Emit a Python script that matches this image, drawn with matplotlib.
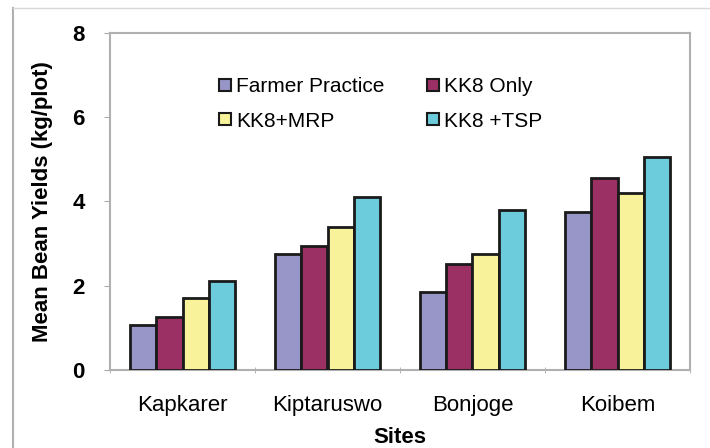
import matplotlib
matplotlib.use("Agg")
import matplotlib.pyplot as plt
import numpy as np
from matplotlib.lines import Line2D

plt.rcParams['font.family'] = ['Liberation Sans', 'DejaVu Sans']

sites = ['Kapkarer', 'Kiptaruswo', 'Bonjoge', 'Koibem']
series = ['Farmer Practice', 'KK8 Only', 'KK8+MRP', 'KK8 +TSP']
farmer = [1.07, 2.75, 1.85, 3.76]
kk8_only = [1.25, 2.95, 2.51, 4.55]
kk8_mrp = [1.72, 3.40, 2.75, 4.21]
kk8_tsp = [2.11, 4.10, 3.80, 5.05]
colors = ['#9896C8', '#9B3065', '#F8F29A', '#6CCCDC']

fig = plt.figure(figsize=(7.1, 4.48), dpi=100)
ax = fig.add_axes([110/710, 1-370/448, 580/710, 337/448])

x = np.arange(len(sites))
w = 0.18
for i, vals in enumerate([farmer, kk8_only, kk8_mrp, kk8_tsp]):
    ax.bar(x + (i - 1.5)*w, vals, w, color=colors[i], edgecolor='#1a1a1a',
           linewidth=2, label=series[i], zorder=3)

ax.set_xlim(-0.5, 3.5)
ax.set_ylim(0, 8)
ax.set_yticks([0, 2, 4, 6, 8])
ax.set_xticks(x)
ax.set_xticklabels(sites, fontsize=16)
ax.set_xticks([-0.5, 0.5, 1.5, 2.5, 3.5], minor=True)
ax.tick_params(axis='x', which='major', length=0, pad=18)
ax.tick_params(axis='x', which='minor', length=5, direction='inout', color='#aaaaaa')
ax.tick_params(axis='y', length=4, color='#aaaaaa', labelsize=16, pad=14)
for lab in ax.get_yticklabels():
    lab.set_fontweight('bold')
for s in ax.spines.values():
    s.set_color('#b0b0b0')
    s.set_linewidth(1.5)

ax.set_ylabel('Mean Bean Yields (kg/plot)', fontsize=16, fontweight='bold', labelpad=14)
ax.set_xlabel('Sites', fontsize=16, fontweight='bold', labelpad=8)

# legend fills column-wise, so order gives rows: FP / KK8 Only, MRP / TSP
order = [0, 2, 1, 3]
handles = [Line2D([], [], marker='s', linestyle='none', markersize=8,
                  markerfacecolor=colors[i], markeredgecolor='#1a1a1a', markeredgewidth=1.5)
           for i in order]
ax.legend(handles, [series[i] for i in order], loc='upper left',
          bbox_to_anchor=(0.155, 0.925), ncol=2, frameon=False, fontsize=15,
          handlelength=0.6, handletextpad=0.25, columnspacing=2.0, labelspacing=0.75)

# outer frame of the original figure
fig.add_artist(Line2D([13/710, 13/710], [0, 1-8/448], transform=fig.transFigure,
                      color='#b0b0b0', linewidth=1.5))
fig.add_artist(Line2D([13/710, 1], [1-8/448, 1-8/448], transform=fig.transFigure,
                      color='#d8d8d8', linewidth=1))

fig.savefig('out.png', dpi=100)
